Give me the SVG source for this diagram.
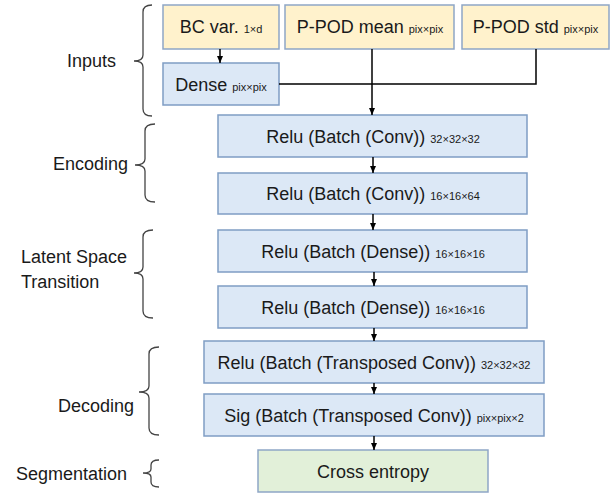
<svg xmlns="http://www.w3.org/2000/svg" width="611" height="495" viewBox="0 0 611 495">
<style>
text{font-family:"Liberation Sans",Arial,sans-serif;fill:#1a1a1a}
.t{font-size:18px;text-anchor:middle}
.s{font-size:11px}
.l{font-size:18px}
.y{fill:#FFF2CC;stroke:#8EA6C6;stroke-width:1.5}
.b{fill:#DCE8F6;stroke:#7F9DC4;stroke-width:1.5}
.g{fill:#E2F0D9;stroke:#8EA6C6;stroke-width:1.5}
.c{fill:none;stroke:#000;stroke-width:1.5}
.br{fill:none;stroke:#444;stroke-width:1.3}
</style>
<defs>
<marker id="ah" markerUnits="userSpaceOnUse" markerWidth="8" markerHeight="8" refX="7" refY="4" orient="auto">
<path d="M0,1 L7,4 L0,7 z" fill="#000"/>
</marker>
</defs>
<g id="labels">
<text class="l" x="67" y="67">Inputs</text>
<path class="br" d="M152,5 Q143,5 143,12 L143,55 Q143,61 134,61 Q143,61 143,67 L143,109 Q143,116 152,116"/>
<text class="l" x="53" y="170">Encoding</text>
<path class="br" d="M155,124 Q145,124 145,131 L145,159 Q145,165 135,165 Q145,165 145,171 L145,195 Q145,202 155,202"/>
<text class="l" x="21" y="263">Latent Space</text>
<text class="l" x="21" y="288">Transition</text>
<path class="br" d="M153,230 Q143,230 143,237 L143,267 Q143,273 134,273 Q143,273 143,279 L143,311 Q143,318 153,318"/>
<text class="l" x="58" y="412">Decoding</text>
<path class="br" d="M159,347 Q149,347 149,354 L149,386 Q149,392 139,392 Q149,392 149,398 L149,428 Q149,435 159,435"/>
<text class="l" x="16" y="480">Segmentation</text>
<path class="br" d="M159,460 Q151,460 151,465 L151,469 Q151,473 143,473 Q151,473 151,477 L151,482 Q151,487 159,487"/>
</g>
<g id="node-bc">
<rect class="y" x="163" y="5" width="116" height="44"/>
<text class="t" x="221" y="33">BC var. <tspan class="s">1×d</tspan></text>
</g>
<g id="node-mean">
<rect class="y" x="285" y="5" width="169" height="44"/>
<text class="t" x="370" y="33">P-POD mean <tspan class="s">pix×pix</tspan></text>
</g>
<g id="node-std">
<rect class="y" x="462" y="5" width="147" height="44"/>
<text class="t" x="535.5" y="33">P-POD std <tspan class="s">pix×pix</tspan></text>
</g>
<g id="node-dense">
<rect class="b" x="163" y="63" width="116" height="42"/>
<text class="t" x="221" y="90.5">Dense <tspan class="s">pix×pix</tspan></text>
</g>
<g id="node-enc1">
<rect class="b" x="218" y="115" width="309" height="42"/>
<text class="t" x="373" y="142.5">Relu (Batch (Conv)) <tspan class="s">32×32×32</tspan></text>
</g>
<g id="node-enc2">
<rect class="b" x="218" y="173" width="309" height="41"/>
<text class="t" x="373" y="200">Relu (Batch (Conv)) <tspan class="s">16×16×64</tspan></text>
</g>
<g id="node-lat1">
<rect class="b" x="218" y="230" width="309" height="42"/>
<text class="t" x="373" y="257.5">Relu (Batch (Dense)) <tspan class="s">16×16×16</tspan></text>
</g>
<g id="node-lat2">
<rect class="b" x="218" y="286" width="309" height="42"/>
<text class="t" x="373" y="313.5">Relu (Batch (Dense)) <tspan class="s">16×16×16</tspan></text>
</g>
<g id="node-dec1">
<rect class="b" x="204" y="341" width="340" height="42"/>
<text class="t" x="374" y="368.5">Relu (Batch (Transposed Conv)) <tspan class="s">32×32×32</tspan></text>
</g>
<g id="node-dec2">
<rect class="b" x="204" y="394" width="340" height="42"/>
<text class="t" x="374" y="421.5">Sig (Batch (Transposed Conv)) <tspan class="s">pix×pix×2</tspan></text>
</g>
<g id="node-ce">
<rect class="g" x="258" y="450" width="230" height="42"/>
<text class="t" x="373" y="477.5">Cross entropy</text>
</g>
<g id="connectors">
<line class="c" x1="220" y1="49" x2="220" y2="63" marker-end="url(#ah)"/>
<line class="c" x1="372" y1="49" x2="372" y2="115" marker-end="url(#ah)"/>
<path class="c" d="M536,49 V84 H279"/>
<line class="c" x1="373" y1="157" x2="373" y2="173" marker-end="url(#ah)"/>
<line class="c" x1="373" y1="214" x2="373" y2="230" marker-end="url(#ah)"/>
<line class="c" x1="374" y1="272" x2="374" y2="286" marker-end="url(#ah)"/>
<line class="c" x1="374" y1="328" x2="374" y2="341" marker-end="url(#ah)"/>
<line class="c" x1="374" y1="383" x2="374" y2="394" marker-end="url(#ah)"/>
<line class="c" x1="374" y1="436" x2="374" y2="450" marker-end="url(#ah)"/>
</g>
</svg>
